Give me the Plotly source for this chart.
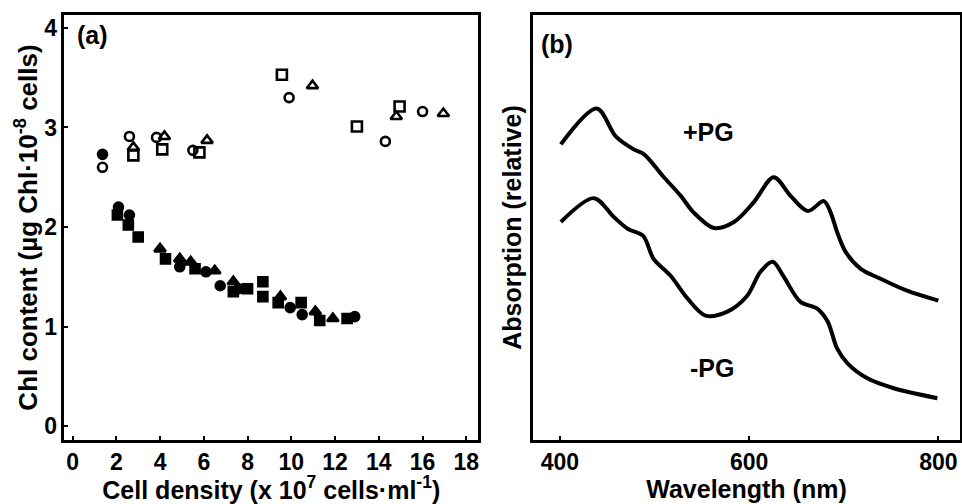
import plotly.graph_objects as go

# Panel (a): Chl content vs cell density
open_circle_x = [1.37, 2.6, 3.84, 5.5, 9.9, 14.3, 16.0]
open_circle_y = [2.60, 2.91, 2.90, 2.77, 3.30, 2.86, 3.16]
open_square_x = [2.78, 4.1, 5.8, 9.57, 13.0, 14.95]
open_square_y = [2.72, 2.78, 2.75, 3.53, 3.01, 3.21]
open_tri_x = [2.78, 4.2, 6.15, 10.97, 14.8, 16.95]
open_tri_y = [2.80, 2.91, 2.87, 3.42, 3.11, 3.14]

fill_circle_x = [1.37, 2.1, 2.6, 4.9, 6.1, 6.75, 7.6, 9.95, 10.5, 12.9]
fill_circle_y = [2.73, 2.20, 2.12, 1.60, 1.55, 1.41, 1.38, 1.19, 1.12, 1.10]
fill_square_x = [2.05, 2.55, 3.0, 4.25, 5.6, 7.35, 8.0, 8.7, 8.7, 9.4, 10.45, 11.3, 12.55]
fill_square_y = [2.12, 2.02, 1.90, 1.68, 1.58, 1.35, 1.38, 1.45, 1.30, 1.24, 1.24, 1.06, 1.08]
fill_tri_x = [4.0, 4.9, 5.4, 6.5, 7.35, 9.5, 11.1, 11.9]
fill_tri_y = [1.78, 1.68, 1.65, 1.56, 1.45, 1.30, 1.15, 1.08]

a_xticks = [0, 2, 4, 6, 8, 10, 12, 14, 16, 18]
a_yticks = [0, 1, 2, 3, 4]

# Panel (b): absorption spectra (relative)
plus_pg_nm = [401, 439, 459, 478, 489, 509, 528, 541, 563, 584, 605, 626, 644, 662,
              679, 686, 693, 702, 718, 739, 767, 800]
plus_pg_abs = [2.97, 3.33, 3.05, 2.92, 2.87, 2.65, 2.45, 2.29, 2.13, 2.19, 2.39, 2.64,
               2.45, 2.30, 2.40, 2.29, 2.09, 1.89, 1.72, 1.62, 1.50, 1.40]
minus_pg_nm = [401, 436, 457, 472, 488, 499, 517, 535, 554, 577, 598, 612, 625, 636,
               654, 672, 683, 693, 704, 725, 753, 799]
minus_pg_abs = [2.19, 2.43, 2.24, 2.12, 2.05, 1.82, 1.65, 1.42, 1.25, 1.29, 1.45, 1.69,
                1.79, 1.65, 1.39, 1.32, 1.19, 0.92, 0.77, 0.62, 0.52, 0.42]
b_xticks = [400, 600, 800]

FONT = "Liberation Sans"
BLACK = "black"
TICK_SIZE = 23
TITLE_SIZE = 25

fig = go.Figure()


def add_markers(x, y, symbol, size):
    fig.add_trace(go.Scatter(
        x=x, y=y, mode="markers", xaxis="x", yaxis="y", showlegend=False,
        marker=dict(symbol=symbol, size=size, color=BLACK,
                    line=dict(color=BLACK, width=2.6)),
    ))


add_markers(fill_circle_x, fill_circle_y, "circle", 9)
add_markers(fill_square_x, fill_square_y, "square", 9)
add_markers(fill_tri_x, fill_tri_y, "triangle-up", 10)
add_markers(open_tri_x, open_tri_y, "triangle-up-open", 10)
add_markers(open_square_x, open_square_y, "square-open", 10)
add_markers(open_circle_x, open_circle_y, "circle-open", 9)

for xs, ys in ((plus_pg_nm, plus_pg_abs), (minus_pg_nm, minus_pg_abs)):
    fig.add_trace(go.Scatter(x=xs, y=ys, mode="lines", xaxis="x2", yaxis="y2",
                             line=dict(color=BLACK, width=4, shape="spline", smoothing=0.9),
                             showlegend=False))

tickfont = dict(family=FONT, size=TICK_SIZE, color=BLACK, weight="bold")
titlefont = dict(family=FONT, size=TITLE_SIZE, color=BLACK, weight="bold")
axis_common = dict(showline=True, linecolor=BLACK, linewidth=2.5, mirror=True,
                   showgrid=False, zeroline=False, ticks="inside", ticklen=4,
                   tickwidth=2, tickcolor=BLACK, tickfont=tickfont)

fig.update_layout(
    width=962, height=504,
    margin=dict(l=0, r=0, t=15, b=64),
    paper_bgcolor="white", plot_bgcolor="white",
    font=dict(family=FONT, color=BLACK),
    xaxis=dict(domain=[0.067, 0.497], range=[-0.37, 18.54], tickvals=a_xticks,
               title=dict(text="Cell density (x 10<sup>7</sup> cells·ml<sup>-1</sup>)",
                          font=titlefont, standoff=0),
               anchor="y", **axis_common),
    yaxis=dict(domain=[0, 1], range=[-0.14, 4.13], tickvals=a_yticks,
               title=dict(text="Chl content (µg Chl·10<sup>-8</sup> cells)",
                          font=dict(family=FONT, size=26, color=BLACK, weight="bold"),
                          standoff=0),
               anchor="x", **axis_common),
    xaxis2=dict(domain=[0.554, 0.998], range=[371.5, 823], tickvals=b_xticks,
                title=dict(text="Wavelength (nm)", font=titlefont, standoff=0),
                anchor="y2", **axis_common),
    yaxis2=dict(domain=[0, 1], range=[0, 4.27], showticklabels=False,
                showline=True, linecolor=BLACK, linewidth=2.5, mirror=True,
                showgrid=False, zeroline=False, ticks="",
                title=dict(text="Absorption (relative)", font=titlefont, standoff=2),
                anchor="x2"),
    annotations=[
        dict(text="(a)", x=0.1, y=3.93, xref="x", yref="y", showarrow=False,
             xanchor="left", font=dict(family=FONT, size=25, color=BLACK, weight="bold")),
        dict(text="(b)", x=378, y=3.98, xref="x2", yref="y2", showarrow=False,
             xanchor="left", font=dict(family=FONT, size=25, color=BLACK, weight="bold")),
        dict(text="+PG", x=557, y=3.09, xref="x2", yref="y2", showarrow=False,
             font=dict(family=FONT, size=25, color=BLACK, weight="bold")),
        dict(text="-PG", x=561, y=0.72, xref="x2", yref="y2", showarrow=False,
             font=dict(family=FONT, size=25, color=BLACK, weight="bold")),
    ],
)

fig.write_html(
    "out.html",
    config={"displayModeBar": False},
    post_script="document.body.style.margin='0';document.body.style.overflow='hidden';",
)
